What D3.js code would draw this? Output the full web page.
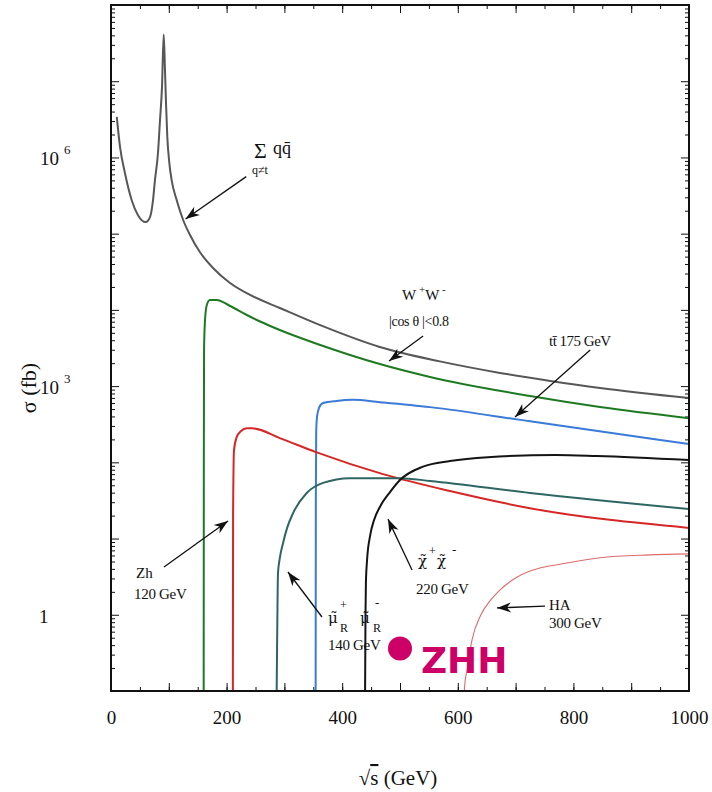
<!DOCTYPE html>
<html>
<head>
<meta charset="utf-8">
<script src="https://cdn.jsdelivr.net/npm/d3@7"></script>
<style>
    body { margin: 0; background: #fff; }
    svg text { font-family: 'Liberation Serif', 'Times New Roman', serif; fill: #111; }
</style>
</head>
<body>
<div id="box-div"></div>
<script>
// cross sections, [sqrt(s) GeV, sigma fb]
const qqbar = [
    [10, 3.4e6], [15.6, 1.38e6], [24.2, 6.2e5], [35.8, 2.75e5], [46.7, 1.75e5], [60, 1.42e5],
    [67.5, 1.65e5], [72.7, 2.75e5], [76, 5.0e5], [81.3, 1.15e6], [84.8, 3.1e6], [88.2, 8.3e6],
    [91.2, 4.1e7], [93.4, 1.4e7], [95.2, 5.1e6], [97.4, 1.86e6], [100.9, 8.5e5], [105, 5.0e5],
    [113.7, 2.75e5], [125, 1.5e5], [136.7, 9.6e4], [154, 5.7e4], [176.5, 3.55e4], [206, 2.25e4],
    [240.5, 1.57e4], [292, 1.06e4], [362, 6.3e3], [465, 3.26e3], [569, 2.11e3], [673, 1.49e3],
    [760, 1.17e3], [846, 945], [1000, 697]
]
const wwPair = [
    [160.3, 0.05], [160.6, 100], [161, 3000], [162.5, 7000], [165.6, 1.15e4], [171, 1.35e4],
    [183, 1.35e4], [206, 1.125e4], [235, 8570], [258, 7040], [292, 5440], [362, 3460],
    [413.5, 2560], [465, 1950], [552, 1320], [725, 741], [846, 532], [1000, 380]
]
const ttbar = [
    [354, 0.05], [354.4, 30], [355, 250], [356.5, 400], [360, 520], [367, 600], [390, 640],
    [419, 660], [465, 615], [552, 530], [725, 345], [1000, 174]
]
const zhiggs = [
    [210.8, 0.05], [211.2, 20], [212.8, 145], [217.5, 214], [225, 257], [235, 279], [244, 280],
    [292, 208], [354.7, 136], [470.6, 70], [586.5, 42], [725, 25], [1000, 13.8]
]
const smuon = [
    [286.5, 0.08], [287.5, 0.5], [288.9, 3.5], [292, 5.5], [297.6, 8.7], [305, 14], [315, 21.6],
    [338.6, 39.6], [366.8, 53.7], [413.5, 62], [500, 62], [552, 57], [725, 39.6], [1000, 24.4]
]
const chargino = [
    [439.4, 0.05], [440.3, 1], [441, 2.6], [443, 5.2], [448, 10.6], [455, 17.4], [465.4, 26.2],
    [482.7, 40.7], [500, 58.6], [539.8, 87.7], [586.5, 104], [652, 117], [770, 125], [841, 121],
    [1000, 107]
]
const heavyHA = [
    [609.5, 0.06], [612, 0.12], [616, 0.19], [624.6, 0.47], [640, 1.0], [655.7, 1.52], [669.6, 2.0],
    [702, 3.1], [742, 4.1], [770, 4.5], [846, 5.6], [932.5, 6.1], [1000, 6.3]
]
const zhhPoint = [[500, 0.36]]

// tick values
const xTicksMinor = d3.range(0, 1001, 50)
const xTicksMajor = d3.range(0, 1001, 100)
const xTickLabels = [0, 200, 400, 600, 800, 1000]
const yDecades = d3.range(-1, 9).map(e => Math.pow(10, e))
const yTickLabels = [1, 1e3, 1e6]

// arrows, from -> to in data units
const arrows = [
    { from: [234, 5.6e5], to: [129, 1.56e5] },
    { from: [540, 4540], to: [481, 2130] },
    { from: [829, 2980], to: [699, 394] },
    { from: [91.7, 4.24], to: [202.4, 17.0] },
    { from: [365, 0.935], to: [306.2, 3.64] },
    { from: [520.8, 3.86], to: [479.2, 18.0] },
    { from: [750.9, 1.30], to: [667.8, 1.23] }
]

let dms = {
    width: 712,
    height: 792,
    margin: { top: 5, right: 23, bottom: 101, left: 111 }
}
dms.chartWidth = dms.width - dms.margin.left - dms.margin.right
dms.chartHeight = dms.height - dms.margin.top - dms.margin.bottom

const box = d3.select('#box-div').append('svg')
    .attr('width', dms.width)
    .attr('height', dms.height)
    .style('background', '#fff')

const defs = box.append('defs')
defs.append('clipPath').attr('id', 'plot-clip')
    .append('rect')
    .attr('width', dms.chartWidth)
    .attr('height', dms.chartHeight)
defs.append('marker')
    .attr('id', 'arrow-head')
    .attr('markerUnits', 'userSpaceOnUse')
    .attr('viewBox', '-15 -6 16 12')
    .attr('refX', 0).attr('refY', 0)
    .attr('markerWidth', 16).attr('markerHeight', 12)
    .attr('orient', 'auto')
    .append('path')
    .attr('d', 'M0,0 L-14,-5 L-10,0 L-14,5 Z')
    .attr('fill', '#111')

const content = box.append('g')
    .attr('transform', `translate(${dms.margin.left}, ${dms.margin.top})`)

const xScale = d3.scaleLinear().domain([0, 1000]).range([0, dms.chartWidth])
const yScale = d3.scaleLog().domain([0.1, 1e8]).range([dms.chartHeight, 0])

// ticks (inside)
const yMinor = []
yDecades.forEach(d => { for (let k = 2; k <= 9; k++) if (d * k < 1e8) yMinor.push(d * k) })

const styleAxis = g => {
    g.select('.domain').remove()
    g.selectAll('.tick line').attr('stroke', '#111').attr('stroke-width', 1)
}
content.append('g').attr('transform', `translate(0, ${dms.chartHeight})`)
    .call(d3.axisBottom(xScale).tickValues(xTicksMinor).tickSize(-4).tickFormat(''))
    .call(styleAxis)
content.append('g').attr('class', 'axis-x').attr('transform', `translate(0, ${dms.chartHeight})`)
    .call(d3.axisBottom(xScale).tickValues(xTicksMajor).tickSize(-8).tickPadding(20)
        .tickFormat(d => xTickLabels.includes(d) ? d : ''))
    .call(styleAxis)
content.append('g')
    .call(d3.axisTop(xScale).tickValues(xTicksMinor).tickSize(-4).tickFormat(''))
    .call(styleAxis)
content.append('g')
    .call(d3.axisTop(xScale).tickValues(xTicksMajor).tickSize(-8).tickFormat(''))
    .call(styleAxis)
d3.selectAll('.axis-x text')
    .attr('font-family', "'Liberation Serif', serif")
    .attr('font-size', 19)
    .attr('fill', '#111')

content.append('g')
    .call(d3.axisLeft(yScale).tickValues(yMinor).tickSize(-4).tickFormat(''))
    .call(styleAxis)
content.append('g')
    .call(d3.axisLeft(yScale).tickValues(yDecades).tickSize(-8).tickFormat(''))
    .call(styleAxis)
content.append('g').attr('transform', `translate(${dms.chartWidth}, 0)`)
    .call(d3.axisRight(yScale).tickValues(yMinor).tickSize(-4).tickFormat(''))
    .call(styleAxis)
content.append('g').attr('transform', `translate(${dms.chartWidth}, 0)`)
    .call(d3.axisRight(yScale).tickValues(yDecades).tickSize(-8).tickFormat(''))
    .call(styleAxis)

// y labels 1, 10^3, 10^6
yTickLabels.forEach(v => {
    const t = content.append('text')
        .attr('x', v === 1 ? -72 : -71)
        .attr('y', yScale(v) + 8)
        .attr('font-size', 19)
    if (v === 1) {
        t.text('1')
    } else {
        t.text('10')
        t.append('tspan').attr('dx', 5).attr('dy', -11).attr('font-size', 13)
            .text(Math.round(Math.log10(v)))
    }
})

// curves
const series = [
    { data: qqbar, color: '#575757', width: 2 },
    { data: wwPair, color: '#1d7a22', width: 2 },
    { data: ttbar, color: '#3a7ad8', width: 2 },
    { data: zhiggs, color: '#d62626', width: 2 },
    { data: smuon, color: '#2e6663', width: 2 },
    { data: chargino, color: '#141414', width: 2 },
    { data: heavyHA, color: '#e06a6a', width: 1.1 }
]
const line = d3.line()
    .x(d => xScale(d[0]))
    .y(d => yScale(d[1]))
    .curve(d3.curveMonotoneX)

const plot = content.append('g').attr('clip-path', 'url(#plot-clip)')
plot.selectAll('.curve')
    .data(series)
    .enter()
    .append('path')
    .attr('class', 'curve')
    .attr('d', d => line(d.data))
    .attr('fill', 'none')
    .attr('stroke', d => d.color)
    .attr('stroke-width', d => d.width)
    .attr('stroke-linejoin', 'round')

// ZHH marker
plot.selectAll('.zhh')
    .data(zhhPoint)
    .enter()
    .append('circle')
    .attr('class', 'zhh')
    .attr('cx', d => xScale(d[0]))
    .attr('cy', d => yScale(d[1]))
    .attr('r', 12)
    .attr('fill', '#cc0066')

// frame
content.append('rect')
    .attr('width', dms.chartWidth)
    .attr('height', dms.chartHeight)
    .attr('fill', 'none')
    .attr('stroke', '#111')
    .attr('stroke-width', 2)

// arrows
content.selectAll('.arrow')
    .data(arrows)
    .enter()
    .append('line')
    .attr('class', 'arrow')
    .attr('x1', d => xScale(d.from[0]))
    .attr('y1', d => yScale(d.from[1]))
    .attr('x2', d => xScale(d.to[0]))
    .attr('y2', d => yScale(d.to[1]))
    .attr('stroke', '#111')
    .attr('stroke-width', 1.3)
    .attr('marker-end', 'url(#arrow-head)')

// annotations (page coordinates)
const notes = box.append('g')
const addText = (x, y, size, txt) => notes.append('text').attr('x', x).attr('y', y)
    .attr('font-size', size).text(txt)
// greek letter with a tilde, DejaVu places the combining mark properly
const addTilde = (x, y, txt) => addText(x, y, 15, txt + '\u0303')
    .style('font-family', "'DejaVu Serif', serif")

addText(254, 158, 22, 'Σ')
addText(273, 154, 18, 'qq\u0304')
addText(252, 174, 12, 'q≠t')

const ww = addText(402, 300, 15, 'W')
ww.append('tspan').attr('dy', -7).attr('font-size', 11).text(' +')
ww.append('tspan').attr('dy', 7).text('W')
ww.append('tspan').attr('dy', -7).attr('font-size', 11).text(' -')
addText(389, 326, 14, '|cos  θ |<0.8').attr('letter-spacing', -0.3)

addText(549, 346, 15, 'tt\u0304  175 GeV').attr('letter-spacing', -0.5)

addText(136, 578, 15, 'Zh')
addText(134, 599, 15, '120 GeV').attr('letter-spacing', -0.3)

// smuon label: mu~ +R  mu~ -R
addTilde(328, 623, 'μ')
addText(340, 609, 12, '+')
addText(340, 632, 12, 'R')
addTilde(360, 623, 'μ')
addText(375, 607, 13, '-')
addText(373, 632, 12, 'R')
addText(328, 650, 15, '140 GeV').attr('letter-spacing', -0.3)

// chargino label: chi~ + chi~ -
addTilde(418, 566, 'χ')
addText(429, 555, 12, '+')
addTilde(437, 566, 'χ')
addText(452, 554, 13, '-')
addText(416, 594, 15, '220 GeV').attr('letter-spacing', -0.3)

addText(549, 610, 15, 'HA')
addText(549, 628, 15, '300 GeV').attr('letter-spacing', -0.3)

notes.append('text')
    .attr('x', 421).attr('y', 673)
    .attr('font-size', 36)
    .attr('font-weight', 'bold')
    .style('font-family', "'DejaVu Sans', sans-serif")
    .style('fill', '#cc0066')
    .text('ZHH')

// axis titles
const xt = notes.append('text')
    .attr('x', 398).attr('y', 785)
    .attr('text-anchor', 'middle')
    .attr('font-size', 21)
xt.append('tspan').text('√')
xt.append('tspan').style('text-decoration', 'overline').text('s')
xt.append('tspan').text(' (GeV)')

notes.append('text')
    .attr('transform', 'translate(36, 388) rotate(-90)')
    .attr('text-anchor', 'middle')
    .attr('font-size', 22)
    .text('σ (fb)')
</script>
</body>
</html>
